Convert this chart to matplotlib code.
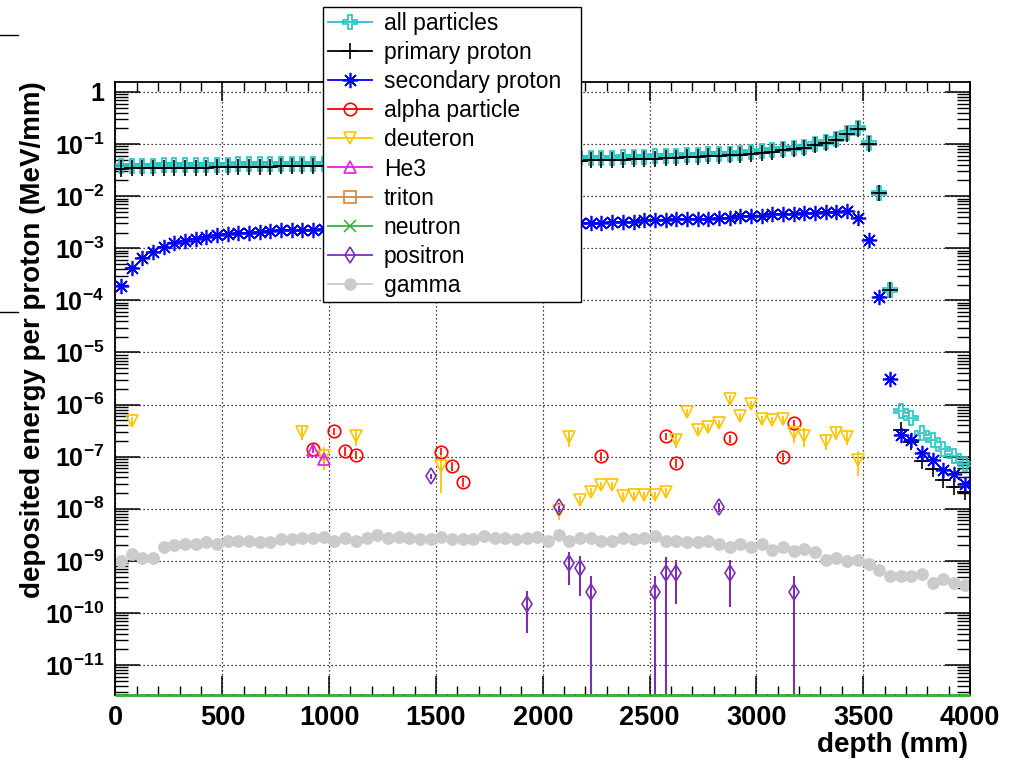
import numpy as np
import matplotlib
matplotlib.use("Agg")
import matplotlib.pyplot as plt
from matplotlib.lines import Line2D
from matplotlib.ticker import LogLocator, NullFormatter, MultipleLocator

plt.rcParams['font.family'] = ['Liberation Sans', 'DejaVu Sans']
plt.rcParams['mathtext.fontset'] = 'custom'
plt.rcParams['mathtext.rm'] = 'Liberation Sans:bold'
plt.rcParams['mathtext.bf'] = 'Liberation Sans:bold'
plt.rcParams['mathtext.it'] = 'Liberation Sans:bold'
plt.rcParams['mathtext.default'] = 'rm'

# ---------------- data ----------------
depth = np.arange(25, 4000, 50)  # bin centres (mm), 50 mm bins

all_particles = [
    0.0372, 0.0381, 0.0384, 0.0386, 0.0389, 0.0390, 0.0392, 0.0394, 0.0398, 0.0403,
    0.0405, 0.0408, 0.0410, 0.0412, 0.0414, 0.0417, 0.0419, 0.0421, 0.0423, 0.0422,
    0.0425, 0.0428, 0.0432, 0.0435, 0.0438, 0.0442, 0.0445, 0.0448, 0.0453, 0.0457,
    0.0462, 0.0466, 0.0471, 0.0475, 0.0480, 0.0485, 0.0491, 0.0496, 0.0502, 0.0508,
    0.0515, 0.0522, 0.0528, 0.0535, 0.0544, 0.0546, 0.0549, 0.0555, 0.0567, 0.0572,
    0.0578, 0.0594, 0.0600, 0.0616, 0.0621, 0.0638, 0.0654, 0.0653, 0.0680, 0.0707,
    0.0728, 0.0760, 0.0806, 0.0859, 0.0893, 0.1024, 0.1092, 0.1227, 0.1638, 0.2009,
    0.1051, 0.0115, 1.6e-4, 7.4e-7, 5.5e-7, 2.8e-7, 2.1e-7, 1.4e-7, 1.05e-7, 7.2e-8]

primary_proton = [
    0.0330, 0.0340, 0.0343, 0.0345, 0.0347, 0.0348, 0.0350, 0.0352, 0.0355, 0.0360,
    0.0362, 0.0364, 0.0366, 0.0368, 0.0370, 0.0372, 0.0374, 0.0376, 0.0378, 0.0380,
    0.0383, 0.0386, 0.0389, 0.0392, 0.0395, 0.0398, 0.0401, 0.0404, 0.0408, 0.0412,
    0.0416, 0.0420, 0.0424, 0.0428, 0.0432, 0.0437, 0.0442, 0.0447, 0.0452, 0.0458,
    0.0464, 0.0470, 0.0476, 0.0482, 0.0490, 0.0492, 0.0495, 0.0500, 0.0515, 0.0520,
    0.0525, 0.0540, 0.0545, 0.0565, 0.0570, 0.0585, 0.0600, 0.0605, 0.0630, 0.0655,
    0.0680, 0.0710, 0.0760, 0.0810, 0.0850, 0.0975, 0.1050, 0.1180, 0.1590, 0.1950,
    0.1020, 0.0113, 1.56e-4, 3.3e-7, 1.9e-7, 8.2e-8, 5.8e-8, 3.5e-8, 2.6e-8, 2.1e-8]

secondary_proton = [
    1.89e-4, 4.25e-4, 6.6e-4, 8.6e-4, 1.06e-3, 1.24e-3, 1.38e-3, 1.53e-3, 1.67e-3, 1.79e-3,
    1.85e-3, 1.93e-3, 1.99e-3, 2.08e-3, 2.14e-3, 2.20e-3, 2.23e-3, 2.27e-3, 2.27e-3, 2.30e-3,
    2.33e-3, 2.36e-3, 2.39e-3, 2.42e-3, 2.45e-3, 2.48e-3, 2.51e-3, 2.54e-3, 2.57e-3, 2.60e-3,
    2.63e-3, 2.66e-3, 2.69e-3, 2.72e-3, 2.75e-3, 2.78e-3, 2.81e-3, 2.84e-3, 2.87e-3, 2.90e-3,
    2.94e-3, 2.98e-3, 3.02e-3, 3.06e-3, 3.09e-3, 3.09e-3, 3.23e-3, 3.23e-3, 3.23e-3, 3.42e-3,
    3.42e-3, 3.42e-3, 3.68e-3, 3.68e-3, 3.68e-3, 3.68e-3, 3.85e-3, 3.85e-3, 4.14e-3, 4.14e-3,
    4.14e-3, 4.46e-3, 4.46e-3, 4.46e-3, 4.66e-3, 4.66e-3, 4.94e-3, 4.94e-3, 5.09e-3, 3.85e-3,
    1.44e-3, 1.17e-4, 3.1e-6, 2.6e-7, 2.1e-7, 1.17e-7, 8.7e-8, 5.6e-8, 4.7e-8, 3.0e-8]

gamma = [
    9.75e-10, 1.37e-9, 1.13e-9, 1.13e-9, 1.84e-9, 1.98e-9, 2.07e-9, 2.07e-9, 2.29e-9, 2.07e-9,
    2.39e-9, 2.39e-9, 2.39e-9, 2.29e-9, 2.29e-9, 2.57e-9, 2.57e-9, 2.73e-9, 2.73e-9, 2.85e-9,
    2.39e-9, 2.73e-9, 2.39e-9, 2.73e-9, 3.07e-9, 2.73e-9, 2.85e-9, 2.73e-9, 2.57e-9, 2.57e-9,
    2.85e-9, 2.57e-9, 2.57e-9, 2.57e-9, 2.94e-9, 2.73e-9, 2.73e-9, 2.57e-9, 2.73e-9, 2.85e-9,
    2.39e-9, 3.07e-9, 2.39e-9, 2.73e-9, 2.73e-9, 2.39e-9, 2.39e-9, 2.73e-9, 2.57e-9, 2.73e-9,
    2.94e-9, 2.39e-9, 2.39e-9, 2.29e-9, 2.29e-9, 2.39e-9, 2.07e-9, 1.84e-9, 2.07e-9, 1.84e-9,
    2.07e-9, 1.63e-9, 1.84e-9, 1.54e-9, 1.71e-9, 1.45e-9, 1.02e-9, 1.13e-9, 9.75e-10, 1.02e-9,
    8.55e-10, 6.76e-10, 5.04e-10, 5.04e-10, 5.04e-10, 5.67e-10, 3.75e-10, 4.41e-10, 3.75e-10, 3.49e-10]

neutron = [0.0] * 80

alpha_depth = [925, 1025, 1075, 1125, 1525, 1575, 1625, 2275, 2575, 2625, 2875, 3125, 3175]
alpha_val = [1.41e-7, 3.07e-7, 1.27e-7, 1.09e-7, 1.21e-7, 6.55e-8, 3.23e-8,
             1.04e-7, 2.46e-7, 7.48e-8, 2.25e-7, 1.0e-7, 4.42e-7]
alpha_err = [2.5e-8, 5e-8, 2.5e-8, 2e-8, 2.5e-8, 1.3e-8, 6e-9,
             2e-8, 4e-8, 1.5e-8, 4e-8, 2e-8, 7e-8]

deuteron_depth = [75, 875, 975, 1125, 1525, 2075, 2125, 2175, 2225, 2275, 2325, 2375,
                  2425, 2475, 2525, 2575, 2625, 2675, 2725, 2775, 2825, 2875, 2925,
                  2975, 3025, 3075, 3125, 3175, 3225, 3325, 3375, 3425, 3475]
deuteron_val = [4.9e-7, 2.93e-7, 1.05e-7, 2.46e-7, 6.5e-8, 9.2e-9, 2.35e-7, 1.5e-8,
                2.14e-8, 2.87e-8, 2.87e-8, 1.79e-8, 1.8e-8, 1.8e-8, 1.8e-8, 2.14e-8,
                2.12e-7, 7.1e-7, 3.29e-7, 3.65e-7, 4.42e-7, 1.27e-6, 5.94e-7, 1.02e-6,
                5.27e-7, 5.1e-7, 5.27e-7, 2.84e-7, 2.52e-7, 2.03e-7, 2.84e-7, 2.35e-7, 8.5e-8]
deuteron_err = [9.8e-8, 8.8e-8, 5e-8, 8.6e-8, 4.5e-8, 3.2e-9, 8.2e-8, 2.3e-9,
                3.2e-9, 4.3e-9, 4.3e-9, 2.7e-9, 2.7e-9, 2.7e-9, 2.7e-9, 3.2e-9,
                6.4e-8, 1.07e-7, 4.9e-8, 5.5e-8, 6.6e-8, 2.5e-7, 8.9e-8, 1.5e-7,
                7.9e-8, 7.7e-8, 7.9e-8, 9.9e-8, 1.0e-7, 7.1e-8, 7.1e-8, 7.1e-8, 4.2e-8]

he3_depth = [925, 975]
he3_val = [1.36e-7, 9.0e-8]
he3_err = [2e-8, 1.5e-8]

triton_depth = []
triton_val = []

positron_depth = [1475, 1925, 2075, 2125, 2175, 2225, 2525, 2575, 2625, 2825, 2875, 3175]
positron_val = [4.2e-8, 1.51e-10, 1.07e-8, 9.08e-10, 7.28e-10, 2.52e-10, 2.52e-10,
                5.9e-10, 5.9e-10, 1.07e-8, 5.9e-10, 2.52e-10]
positron_err = [5e-9, 1.1e-10, 2e-9, 5.7e-10, 5.2e-10, 2.52e-10, 2.52e-10,
                5.9e-10, 4.4e-10, 2e-9, 4.6e-10, 2.52e-10]

labels = ["all particles", "primary proton", "secondary proton", "alpha particle",
          "deuteron", "He3", "triton", "neutron", "positron", "gamma"]

# ---------------- style ----------------
C_ALL = '#22c4c4'
C_PRI = '#000000'
C_SEC = '#0000ff'
C_ALPHA = '#ff0000'
C_DEUT = '#ffc400'
C_HE3 = '#e020e0'
C_TRI = '#d2873c'
C_NEU = '#3cb043'
C_POS = '#7b30b4'
C_GAM = '#cbcbcb'

W, H = 1020, 760
fig = plt.figure(figsize=(W / 100, H / 100), dpi=100)
ax = fig.add_axes([115.5 / W, 1 - 695 / H, (970 - 115.5) / W, (695 - 82) / H])
ax.set_yscale('log')
ax.set_xlim(0, 4000)
ax.set_ylim(2.66e-12, 1.555)

half_bin = 25


def asym(val, err):
    val = np.asarray(val, float)
    err = np.asarray(err, float)
    lo = np.minimum(err, val * (1 - 1e-9))
    return np.vstack([lo, err])


# dense series
ax.errorbar(depth, all_particles, xerr=half_bin, fmt='P', ms=10, mfc='none', mec=C_ALL,
            mew=1.2, ecolor=C_ALL, elinewidth=1.2, capsize=0, zorder=3)
ax.errorbar(depth, primary_proton, xerr=half_bin, fmt='+', ms=11, mec=C_PRI, mew=1.2,
            ecolor=C_PRI, elinewidth=1.2, capsize=0, zorder=4)
ax.errorbar(depth, secondary_proton, xerr=half_bin, fmt='none', ecolor=C_SEC,
            elinewidth=1.3, capsize=0, zorder=5)
ax.plot(depth, secondary_proton, ls='none', marker=(8, 2, 0), ms=11, mec=C_SEC, mew=1.2,
        zorder=5)

# sparse series
ax.errorbar(alpha_depth, alpha_val, yerr=asym(alpha_val, alpha_err), fmt='o', ms=9,
            mfc='none', mec=C_ALPHA, mew=1.2, ecolor=C_ALPHA, elinewidth=1.2, capsize=0, zorder=6)
ax.errorbar(deuteron_depth, deuteron_val, yerr=asym(deuteron_val, deuteron_err), fmt='v',
            ms=9, mfc='none', mec=C_DEUT, mew=1.2, ecolor=C_DEUT, elinewidth=1.3, capsize=0, zorder=6)
ax.errorbar(he3_depth, he3_val, yerr=asym(he3_val, he3_err), fmt='^', ms=9, mfc='none',
            mec=C_HE3, mew=1.2, ecolor=C_HE3, elinewidth=1.2, capsize=0, zorder=6)
if triton_depth:
    ax.plot(triton_depth, triton_val, 's', mfc='none', mec=C_TRI)
ylo = ax.get_ylim()[0]
ax.hlines(np.maximum(np.asarray(neutron), ylo), depth - half_bin, depth + half_bin,
          color=C_NEU, lw=2.2, zorder=7, clip_on=False)
ax.errorbar(positron_depth, positron_val, yerr=asym(positron_val, positron_err), fmt='d',
            ms=8.5, mfc='none', mec=C_POS, mew=1.2, ecolor=C_POS, elinewidth=1.5, capsize=0, zorder=6)
ax.plot(depth, gamma, 'o', ms=8.2, color=C_GAM, mec=C_GAM, zorder=2)

# ---------------- axes ----------------
ax.grid(True, which='major', color='black', ls=(0, (1, 2.2)), lw=0.9)
ax.set_axisbelow(True)
for sp in ax.spines.values():
    sp.set_linewidth(1.3)

ax.xaxis.set_major_locator(MultipleLocator(500))
ax.xaxis.set_minor_locator(MultipleLocator(100))
ax.tick_params(axis='x', which='major', direction='in', length=14, width=1.1, top=True,
               bottom=True, labelsize=19.5, pad=7)
ax.tick_params(axis='x', which='minor', direction='in', length=6.5, width=1.0, top=True,
               bottom=True)
for t in ax.get_xticklabels():
    t.set_fontweight('bold')

yt = [10.0 ** k for k in range(0, -12, -1)]
ytl = ['1'] + [r'$10^{-%d}$' % k for k in range(1, 12)]
ax.set_yticks(yt)
ax.set_yticklabels(ytl)
ax.yaxis.set_minor_locator(LogLocator(base=10, subs=np.arange(2, 10), numticks=200))
ax.yaxis.set_minor_formatter(NullFormatter())
ax.tick_params(axis='y', which='major', direction='in', length=18, width=1.1, left=True,
               right=True, labelsize=18, pad=8)
ax.tick_params(axis='y', which='minor', direction='in', length=9.5, width=1.0, left=True,
               right=True)
for t in ax.get_yticklabels():
    t.set_fontweight('bold')
ax.set_ylim(2.66e-12, 1.555)
ax.set_xlim(0, 4000)

fig.text(33 / W, 1 - 81 / H, 'deposited energy per proton (MeV/mm)', rotation=90,
         ha='center', va='top', fontsize=20, fontweight='bold')
fig.text(968 / W, 1 - 745 / H, 'depth (mm)', ha='right', va='center', fontsize=20,
         fontweight='bold')

# ---------------- legend ----------------
handles = [
    Line2D([0], [0], color=C_ALL, marker='P', ms=10, mfc='none', mec=C_ALL, mew=1.2, lw=1.3),
    Line2D([0], [0], color=C_PRI, marker='+', ms=11, mew=1.2, lw=1.3),
    Line2D([0], [0], color=C_SEC, marker=(8, 2, 0), ms=11, mew=1.2, lw=1.3),
    Line2D([0], [0], color=C_ALPHA, marker='o', ms=9, mfc='none', mew=1.2, lw=1.3),
    Line2D([0], [0], color=C_DEUT, marker='v', ms=9, mfc='none', mew=1.2, lw=1.3),
    Line2D([0], [0], color=C_HE3, marker='^', ms=9, mfc='none', mew=1.2, lw=1.3),
    Line2D([0], [0], color=C_TRI, marker='s', ms=9, mfc='none', mew=1.2, lw=1.3),
    Line2D([0], [0], color=C_NEU, marker='x', ms=8, mew=1.2, lw=1.3),
    Line2D([0], [0], color=C_POS, marker='d', ms=8.5, mfc='none', mew=1.2, lw=1.3),
    Line2D([0], [0], color=C_GAM, marker='o', ms=8, mec=C_GAM, lw=1.3),
]
leg = fig.legend(handles, labels, loc='upper left',
                 bbox_to_anchor=(323 / W, 1 - 298 / H, 258 / W, 291 / H), mode='expand',
                 bbox_transform=fig.transFigure, frameon=True, fancybox=False,
                 edgecolor='black', framealpha=1, borderaxespad=0, fontsize=16.5,
                 handlelength=1.95, handletextpad=0.5, labelspacing=0.27, borderpad=0.2,
                 numpoints=1)
leg.get_frame().set_linewidth(1.0)

# stray marks at left edge
for yy in (35, 312):
    fig.add_artist(Line2D([0, 18 / W], [1 - yy / H] * 2, color='black', lw=1.0,
                          transform=fig.transFigure))

fig.savefig('out.png', dpi=100)
